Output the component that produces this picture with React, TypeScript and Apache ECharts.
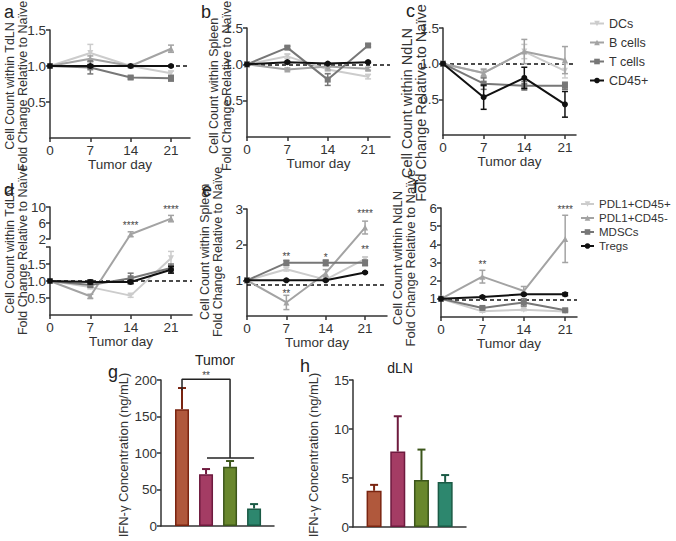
import React, { useEffect, useRef } from 'react';
import * as echarts from 'echarts';

const days = [0, 7, 14, 21];
const topNames = ['DCs', 'B cells', 'T cells', 'CD45+'];
const bottomNames = ['PDL1+CD45+', 'PDL1+CD45-', 'MDSCs', 'Tregs'];

// Panel a: TdLN
const aDCs = [1, 1.18, 1.0, 0.9];
const aDCsErr = [0, 0.12, 0.02, 0.03];
const aBcells = [1, 1.1, 1.0, 1.24];
const aBcellsErr = [0, 0.04, 0.02, 0.05];
const aTcells = [1, 0.98, 0.84, 0.83];
const aTcellsErr = [0, 0.09, 0.02, 0.04];
const aCD45 = [1, 1.0, 1.0, 1.0];
const aCD45Err = [0, 0.02, 0.01, 0.01];
// Panel b: Spleen
const bDCs = [1, 1.11, 0.93, 0.83];
const bDCsErr = [0, 0.03, 0.03, 0.03];
const bBcells = [1, 0.93, 0.97, 0.94];
const bBcellsErr = [0, 0.02, 0.05, 0.02];
const bTcells = [1, 1.23, 0.79, 1.26];
const bTcellsErr = [0, 0.02, 0.08, 0.02];
const bCD45 = [1, 1.03, 1.01, 1.03];
const bCD45Err = [0, 0.01, 0.01, 0.01];
// Panel c: NdLN
const cDCs = [1, 0.87, 1.17, 0.9];
const cDCsErr = [0, 0.06, 0.1, 0.1];
const cBcells = [1, 0.87, 1.17, 1.05];
const cBcellsErr = [0, 0.05, 0.17, 0.19];
const cTcells = [1, 0.72, 0.69, 0.69];
const cTcellsErr = [0, 0.08, 0.06, 0.05];
const cCD45 = [1, 0.53, 0.8, 0.43];
const cCD45Err = [0, 0.17, 0.15, 0.18];
// Panel d: TdLN
const dPDL1pos = [1, 0.82, 0.57, 1.67];
const dPDL1posErr = [0, 0.05, 0.05, 0.2];
const dPDL1neg = [1, 0.55, 3.2, 7.1];
const dPDL1negErr = [0, 0.06, 0.6, 0.8];
const dMDSCs = [1, 0.88, 1.08, 1.38];
const dMDSCsErr = [0, 0.05, 0.15, 0.12];
const dTregs = [1, 0.97, 0.97, 1.33];
const dTregsErr = [0, 0.06, 0.05, 0.1];
// Panel e: Spleen
const ePDL1pos = [1, 1.31, 1.02, 1.6];
const ePDL1posErr = [0, 0.05, 0.05, 0.05];
const ePDL1neg = [1, 0.38, 1.2, 2.48];
const ePDL1negErr = [0, 0.2, 0.1, 0.18];
const eMDSCs = [1, 1.49, 1.49, 1.49];
const eMDSCsErr = [0, 0.07, 0.08, 0.08];
const eTregs = [1, 1.0, 1.0, 1.22];
const eTregsErr = [0, 0.02, 0.02, 0.02];
// Panel f: NdLN
const fPDL1pos = [1, 0.31, 0.4, 0.3];
const fPDL1posErr = [0, 0.05, 0.05, 0.05];
const fPDL1neg = [1, 2.22, 1.43, 4.3];
const fPDL1negErr = [0, 0.35, 0.25, 1.3];
const fMDSCs = [1, 0.5, 0.8, 0.37];
const fMDSCsErr = [0, 0.05, 0.2, 0.05];
const fTregs = [1, 1.1, 1.25, 1.25];
const fTregsErr = [0, 0.05, 0.05, 0.08];

// significance marks [day, y, text]
const dStars: [number, number, string][] = [[14, 5.4, '****'], [21, 9.3, '****']];
const eStars: [number, number, string][] = [[7, 1.68, '**'], [7, 0.64, '**'], [14, 1.63, '*'], [21, 2.86, '****'], [21, 1.86, '**']];
const fStars: [number, number, string][] = [[7, 2.9, '**'], [21, 5.9, '****']];

// Panel g / h: IFN-γ
const groupPos = [1, 2, 3, 4];
const gValues = [160, 71, 81, 24];
const gErrors = [29, 7, 8, 6];
const hValues = [3.7, 7.7, 4.8, 4.6];
const hErrors = [0.6, 3.6, 3.1, 0.7];
const gBracket = [[1, 186], [1, 201], [3, 201], [3, 93]];
const gBracketBar = [[2.04, 93], [4, 93]];
const gStars: [number, number, string][] = [[2.0, 206, '**']];

const barFill = ['#b0583c', '#a43c64', '#69872d', '#2d876e'];
const barEdge = ['#7a2410', '#6e1a3e', '#3c561b', '#1a5a45'];

const FONT = '"Liberation Sans", Arial, sans-serif';
const TXT = '#333';
const AX = '#333';

const styles = [
  { color: '#cccccc', symbol: 'path://M0,0L10,0L5,9Z' },
  { color: '#a3a3a3', symbol: 'triangle' },
  { color: '#777777', symbol: 'rect' },
  { color: '#111111', symbol: 'circle' },
];

const errRender = (colorOf: (i: number) => string, cap: number, both: boolean, lw: number) => (params: any, api: any) => {
  const x = api.value(0);
  const lo = api.coord([x, api.value(1)]);
  const hi = api.coord([x, api.value(2)]);
  const style = { stroke: colorOf(params.dataIndex), lineWidth: lw };
  const children: any[] = [
    { type: 'line', shape: { x1: lo[0], y1: lo[1], x2: hi[0], y2: hi[1] }, style },
    { type: 'line', shape: { x1: hi[0] - cap, y1: hi[1], x2: hi[0] + cap, y2: hi[1] }, style },
  ];
  if (both) children.push({ type: 'line', shape: { x1: lo[0] - cap, y1: lo[1], x2: lo[0] + cap, y2: lo[1] }, style });
  return { type: 'group', children };
};

const starSeries = (gi: number, stars: [number, number, string][], tf = (v: number) => v) => ({
  type: 'custom', xAxisIndex: gi, yAxisIndex: gi, silent: true, z: 10, clip: false,
  data: stars.map((s) => [s[0], tf(s[1])]),
  renderItem: (params: any, api: any) => {
    const p = api.coord([api.value(0), api.value(1)]);
    return {
      type: 'text', x: p[0], y: p[1],
      style: { text: stars[params.dataIndex][2], fill: '#444', font: `10px ${FONT}`, align: 'center', verticalAlign: 'middle' },
    };
  },
});

function panelSeries(gi: number, names: string[], vals: number[][], errs: number[][], refY: number, tf = (v: number) => v) {
  const out: any[] = [];
  vals.forEach((arr, k) => {
    const st = styles[k];
    out.push({
      type: 'custom', xAxisIndex: gi, yAxisIndex: gi, silent: true, z: 2 + k, clip: false,
      data: days.map((d, i) => [d, tf(arr[i] - errs[k][i]), tf(arr[i] + errs[k][i])]).filter((_, i) => errs[k][i] > 0),
      renderItem: errRender(() => st.color, 3, true, 1.5),
    });
    const s: any = {
      type: 'line', name: names[k], xAxisIndex: gi, yAxisIndex: gi, z: 2 + k,
      data: days.map((d, i) => [d, tf(arr[i])]),
      symbol: st.symbol, symbolSize: 6,
      lineStyle: { color: st.color, width: 2 }, itemStyle: { color: st.color },
      emphasis: { disabled: true },
    };
    if (k === 0) {
      s.markLine = {
        silent: true, symbol: 'none', label: { show: false }, z: 1,
        lineStyle: { type: [4, 3], color: '#111', width: 1.5 },
        data: [{ yAxis: tf(refY) }],
      };
    }
    out.push(s);
  });
  return out;
}

// broken axis mapping for panel d
const LOW_TOP = 2;
const GAP = 8 / 34;
const UP_SCALE = 4 / 34;
const dTf = (v: number) => (v <= LOW_TOP ? v : LOW_TOP + GAP + (v - LOW_TOP) * UP_SCALE);
const D_MAX = dTf(10);

const axisLine = { show: true, onZero: false, lineStyle: { color: AX, width: 1.5 } };
const tickBase = { show: true, length: 4, lineStyle: { color: AX, width: 1.5 } };
const labelBase = { color: TXT, fontSize: 13.5, fontFamily: FONT };

const dayAxis = (gi: number, max: number, nameGap: number) => ({
  type: 'value', gridIndex: gi, min: 0, max, splitLine: { show: false },
  axisLine, axisTick: { ...tickBase, customValues: days },
  axisLabel: { ...labelBase, customValues: days, margin: 5 },
  name: 'Tumor day', nameLocation: 'middle', nameGap,
  nameTextStyle: { color: TXT, fontSize: 13.5, fontFamily: FONT },
});

const valAxis = (gi: number, min: number, max: number, labels: number[], fmt: (v: number) => string, ticks?: number[]) => ({
  type: 'value', gridIndex: gi, min, max, splitLine: { show: false },
  axisLine, axisTick: { ...tickBase, customValues: ticks || labels },
  axisLabel: { ...labelBase, customValues: labels, margin: 4, formatter: fmt },
});

const hiddenAxis = (gi: number, min: number, max: number) => ({ type: 'value', gridIndex: gi, min, max, show: false });

const barXAxis = (gi: number, min: number, max: number) => ({
  type: 'value', gridIndex: gi, min, max, splitLine: { show: false },
  axisLine, axisTick: { show: false }, axisLabel: { show: false },
});

const yTitle = (x: number, y: number, text: string, size = 12.5, lh = 13) => ({
  type: 'text', x, y, rotation: Math.PI / 2,
  style: { text, fill: TXT, font: `${size}px ${FONT}`, align: 'center', verticalAlign: 'middle', lineHeight: lh },
});
const letter = (x: number, y: number, text: string) => ({
  type: 'text', x, y, style: { text, fill: '#222', font: `18px ${FONT}`, align: 'left', verticalAlign: 'middle' },
});

function buildOption() {
  const g = (left: number, top: number, width: number, height: number) => ({ left, top, width, height, containLabel: false, outerBoundsMode: 'none' });
  const grid = [
    g(50, 30, 140, 108), // a
    g(247, 28, 143, 109), // b
    g(443, 28, 133, 107), // c
    g(50, 207, 142, 108), // d data
    g(50, 247, 142, 68), // d lower axis
    g(50, 207, 142, 32), // d upper axis
    g(247, 209, 140, 107), // e
    g(441, 208, 136, 109), // f
    g(161, 380, 113, 146), // g
    g(353, 380, 113, 147), // h
  ];
  const f1 = (v: number) => v.toFixed(1);
  const f0 = (v: number) => String(v);
  const xAxis = [
    dayAxis(0, 24.3, 18),
    dayAxis(1, 24.8, 18),
    dayAxis(2, 22.9, 18),
    dayAxis(3, 24.65, 13),
    hiddenAxis(4, 0, 24.65),
    hiddenAxis(5, 0, 24.65),
    dayAxis(6, 24.9, 14),
    dayAxis(7, 23.0, 15),
    barXAxis(8, 0.125, 4.83),
    barXAxis(9, 0.11, 4.88),
  ];
  const yAxis = [
    valAxis(0, 0, 1.5, [0.5, 1.0, 1.5], f1),
    valAxis(1, 0, 1.5, [0.5, 1.0, 1.5], f1),
    valAxis(2, 0, 1.5, [0.5, 1.0, 1.5], f1),
    hiddenAxis(3, 0, D_MAX),
    valAxis(4, 0, 2, [0.5, 1.0, 1.5], f1, [0.5, 1.0, 1.5, 2]),
    valAxis(5, 2, 10, [2, 6, 10], f0),
    valAxis(6, 0, 3, [1, 2, 3], f0),
    valAxis(7, 0, 6, [1, 2, 3, 4, 5, 6], f0),
    valAxis(8, 0, 200, [0, 50, 100, 150, 200], f0),
    valAxis(9, 0, 15, [0, 5, 10, 15], f0),
  ];

  const series: any[] = [
    ...panelSeries(0, topNames, [aDCs, aBcells, aTcells, aCD45], [aDCsErr, aBcellsErr, aTcellsErr, aCD45Err], 1),
    ...panelSeries(1, topNames, [bDCs, bBcells, bTcells, bCD45], [bDCsErr, bBcellsErr, bTcellsErr, bCD45Err], 1),
    ...panelSeries(2, topNames, [cDCs, cBcells, cTcells, cCD45], [cDCsErr, cBcellsErr, cTcellsErr, cCD45Err], 1),
    ...panelSeries(3, bottomNames, [dPDL1pos, dPDL1neg, dMDSCs, dTregs], [dPDL1posErr, dPDL1negErr, dMDSCsErr, dTregsErr], 1, dTf),
    ...panelSeries(6, bottomNames, [ePDL1pos, ePDL1neg, eMDSCs, eTregs], [ePDL1posErr, ePDL1negErr, eMDSCsErr, eTregsErr], 0.88),
    ...panelSeries(7, bottomNames, [fPDL1pos, fPDL1neg, fMDSCs, fTregs], [fPDL1posErr, fPDL1negErr, fMDSCsErr, fTregsErr], 0.95),
    starSeries(3, dStars, dTf),
    starSeries(6, eStars),
    starSeries(7, fStars),
    starSeries(8, gStars),
  ];

  const bars = (gi: number, vals: number[], errs: number[], bw: number) => [
    {
      type: 'bar', xAxisIndex: gi, yAxisIndex: gi, barWidth: bw, z: 2,
      data: groupPos.map((p, i) => ({ value: [p, vals[i]], itemStyle: { color: barFill[i], borderColor: barEdge[i], borderWidth: 1.5 } })),
      emphasis: { disabled: true },
    },
    {
      type: 'custom', xAxisIndex: gi, yAxisIndex: gi, silent: true, z: 1, clip: false,
      data: groupPos.map((p, i) => [p, vals[i], vals[i] + errs[i]]),
      renderItem: errRender((i) => barEdge[i], 4, false, 2),
    },
  ];
  series.push(...bars(8, gValues, gErrors, 14), ...bars(9, hValues, hErrors, 15));
  series.push(
    { type: 'line', xAxisIndex: 8, yAxisIndex: 8, data: gBracket, symbol: 'none', clip: false, silent: true, lineStyle: { color: '#222', width: 1.5 }, z: 5 },
    { type: 'line', xAxisIndex: 8, yAxisIndex: 8, data: gBracketBar, symbol: 'none', clip: false, silent: true, lineStyle: { color: '#222', width: 1.5 }, z: 5 },
  );

  const legendBase = {
    orient: 'vertical', itemWidth: 14, itemHeight: 7, selectedMode: false, padding: 0,
  };

  return {
    animation: false,
    backgroundColor: '#fff',
    grid,
    xAxis,
    yAxis,
    series,
    legend: [
      { ...legendBase, data: topNames, left: 589, top: 17, itemGap: 6, textStyle: { color: TXT, fontSize: 12.5, fontFamily: FONT } },
      { ...legendBase, data: bottomNames, left: 580, top: 198, itemGap: 2, itemWidth: 13, textStyle: { color: TXT, fontSize: 11.5, fontFamily: FONT } },
    ],
    graphic: [
      yTitle(16.5, 86, 'Cell Count within TdLN\nFold Change Relative to Naïve'),
      yTitle(220, 86, 'Cell Count within Spleen\nFold Change Relative to Naïve'),
      yTitle(413.5, 103, 'Cell Count within NdLN\nFold Change Relative to Naïve', 14.5, 14),
      yTitle(16.5, 250, 'Cell Count within TdLN\nFold Change Relative to Naïve'),
      yTitle(211.5, 252, 'Cell Count within Spleen\nFold Change Relative to Naïve'),
      yTitle(403.5, 258, 'Cell Count within NdLN\nFold Change Relative to Naïve', 13, 13),
      yTitle(123, 455, 'IFN-γ Concentration (ng/mL)', 13),
      yTitle(313, 455, 'IFN-γ Concentration (ng/mL)', 13),
      letter(4, 12, 'a'),
      letter(201, 12, 'b'),
      letter(406, 11, 'c'),
      letter(4, 190, 'd'),
      letter(202, 190, 'e'),
      letter(413, 187, 'f'),
      letter(108, 372, 'g'),
      letter(300, 366, 'h'),
      { type: 'text', x: 215, y: 360, style: { text: 'Tumor', fill: '#222', font: `14px ${FONT}`, align: 'center', verticalAlign: 'middle' } },
      { type: 'text', x: 400, y: 368, style: { text: 'dLN', fill: '#222', font: `14px ${FONT}`, align: 'center', verticalAlign: 'middle' } },
    ],
  };
}

export default function App() {
  const ref = useRef<HTMLDivElement>(null);
  useEffect(() => {
    if (!ref.current) return;
    const chart = echarts.init(ref.current, undefined, { renderer: 'svg' });
    chart.setOption(buildOption() as any);
    return () => chart.dispose();
  }, []);
  return <div ref={ref} style={{ position: 'fixed', left: 0, top: 0, width: 676, height: 541, background: '#fff' }} />;
}
